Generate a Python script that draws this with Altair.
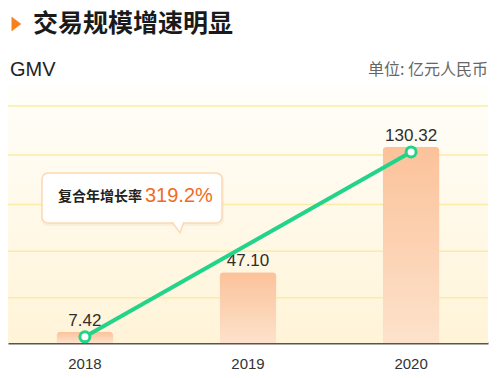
import altair as alt
import pandas as pd

# ---- data ----
years = ["2018", "2019", "2020"]
gmv = [7.42, 47.10, 130.32]
gmv_labels = ["7.42", "47.10", "130.32"]
line_years = ["2018", "2020"]
line_values = [7.42, 130.32]
grid_values = [30, 61, 92, 125, 157.5]

title_text = "交易规模增速明显"
ylabel_text = "GMV"
unit_text = "单位: 亿元人民币"
cagr_label = "复合年增长率"
cagr_value = "319.2%"

CJK = "Noto Sans CJK SC"
LAT = "Liberation Sans"
W, H = 480, 258

df = pd.DataFrame({"year": years, "gmv": gmv, "label": gmv_labels})
df_line = pd.DataFrame({"year": line_years, "gmv": line_values})
df_grid = pd.DataFrame({"v": grid_values})

yscale = alt.Scale(domain=[0, 171.5], nice=False, zero=True)
xscale = alt.Scale(paddingInner=0.651, paddingOuter=0.297)
xaxis = alt.Axis(title=None, labelAngle=0, ticks=False, domainColor="#555555",
                 domainWidth=2, labelFontSize=15, labelColor="#333333",
                 labelFont=LAT, labelPadding=13, grid=False)

one = pd.DataFrame({"a": [0]})

bg = alt.Chart(one).mark_rect(
    color=alt.Gradient(gradient="linear",
                       stops=[alt.GradientStop(color="#fffefa", offset=0),
                              alt.GradientStop(color="#fff4d8", offset=1)],
                       x1=0, x2=0, y1=0, y2=1)
).encode(x=alt.value(0), x2=alt.value(W), y=alt.value(0), y2=alt.value(H))

grid = alt.Chart(df_grid).mark_rule(color="#f8eca6", strokeWidth=1.5).encode(
    y=alt.Y("v:Q", scale=yscale, axis=None), x=alt.value(0), x2=alt.value(W))

bars = alt.Chart(df).mark_bar(
    cornerRadiusTopLeft=4, cornerRadiusTopRight=4,
    color=alt.Gradient(gradient="linear",
                       stops=[alt.GradientStop(color="#fbc29a", offset=0),
                              alt.GradientStop(color="#fde2cb", offset=1)],
                       x1=0, x2=0, y1=0, y2=1)
).encode(
    x=alt.X("year:N", scale=xscale, axis=xaxis, sort=years),
    y=alt.Y("gmv:Q", scale=yscale, axis=None))

labels = alt.Chart(df).mark_text(
    fontSize=17, font=LAT, color="#2e2e2e", baseline="alphabetic", dy=-6
).encode(x=alt.X("year:N", sort=years), y=alt.Y("gmv:Q"), text="label:N")

line = alt.Chart(df_line).mark_line(color="#22d38a", strokeWidth=4, yOffset=5).encode(
    x=alt.X("year:N", sort=years), y=alt.Y("gmv:Q"))

pts = alt.Chart(df_line).mark_point(
    shape="circle", size=100, fill="white", stroke="#22d38a", strokeWidth=3,
    opacity=1, fillOpacity=1, yOffset=5
).encode(x=alt.X("year:N", sort=years), y=alt.Y("gmv:Q"))

callout_shadow = alt.Chart(one).mark_rect(
    fill="#f3dcc0", opacity=0.35, cornerRadius=7
).encode(x=alt.value(33), x2=alt.value(216), y=alt.value(88), y2=alt.value(141))

callout_box = alt.Chart(one).mark_rect(
    fill="white", stroke="#fbd9b4", strokeWidth=1.5, cornerRadius=6
).encode(x=alt.value(34), x2=alt.value(214), y=alt.value(88), y2=alt.value(138))

pointer = alt.Chart(one).mark_point(
    shape="M-1,0 L0.33,1.8 L1,0", size=144, fill="white", stroke="#fbd9b4",
    strokeWidth=1.5, opacity=1, fillOpacity=1
).encode(x=alt.value(170), y=alt.value(137))

cagr_t1 = alt.Chart(pd.DataFrame({"t": [cagr_label]})).mark_text(
    font=CJK, fontSize=14, fontWeight="bold", color="#222222", align="left",
    baseline="middle").encode(text="t:N", x=alt.value(50), y=alt.value(112))
cagr_t2 = alt.Chart(pd.DataFrame({"t": [cagr_value]})).mark_text(
    font=LAT, fontSize=20, color="#f26a1f", align="left",
    baseline="middle").encode(text="t:N", x=alt.value(137), y=alt.value(111))

tri = alt.Chart(one).mark_point(
    shape="M-0.6,-1 L0.7,0 L-0.6,1 Z", size=196, fill="#f5821f", stroke="#f5821f",
    strokeWidth=0.5, opacity=1, fillOpacity=1
).encode(x=alt.value(8), y=alt.value(-61))

title = alt.Chart(pd.DataFrame({"t": [title_text]})).mark_text(
    font=CJK, fontSize=25, fontWeight="bold", color="#1a1a1a", align="left",
    baseline="middle").encode(text="t:N", x=alt.value(25), y=alt.value(-61))

gmv_t = alt.Chart(pd.DataFrame({"t": [ylabel_text]})).mark_text(
    font=LAT, fontSize=20, color="#222222", align="left",
    baseline="middle").encode(text="t:N", x=alt.value(2), y=alt.value(-15))

unit_t = alt.Chart(pd.DataFrame({"t": [unit_text]})).mark_text(
    font=CJK, fontSize=16, color="#666666", align="right",
    baseline="middle").encode(text="t:N", x=alt.value(480), y=alt.value(-15))

chart = alt.layer(
    bg, grid, bars, labels, line, pts, callout_shadow, callout_box, pointer,
    cagr_t1, cagr_t2, tri, title, gmv_t, unit_t
).properties(
    width=W, height=H,
    autosize=alt.AutoSizeParams(type="none"),
    padding={"left": 8, "top": 85, "right": 12, "bottom": 35},
    background="white"
).configure_view(stroke=None)

chart.save("out.html", embed_options={"renderer": "svg", "actions": False})
